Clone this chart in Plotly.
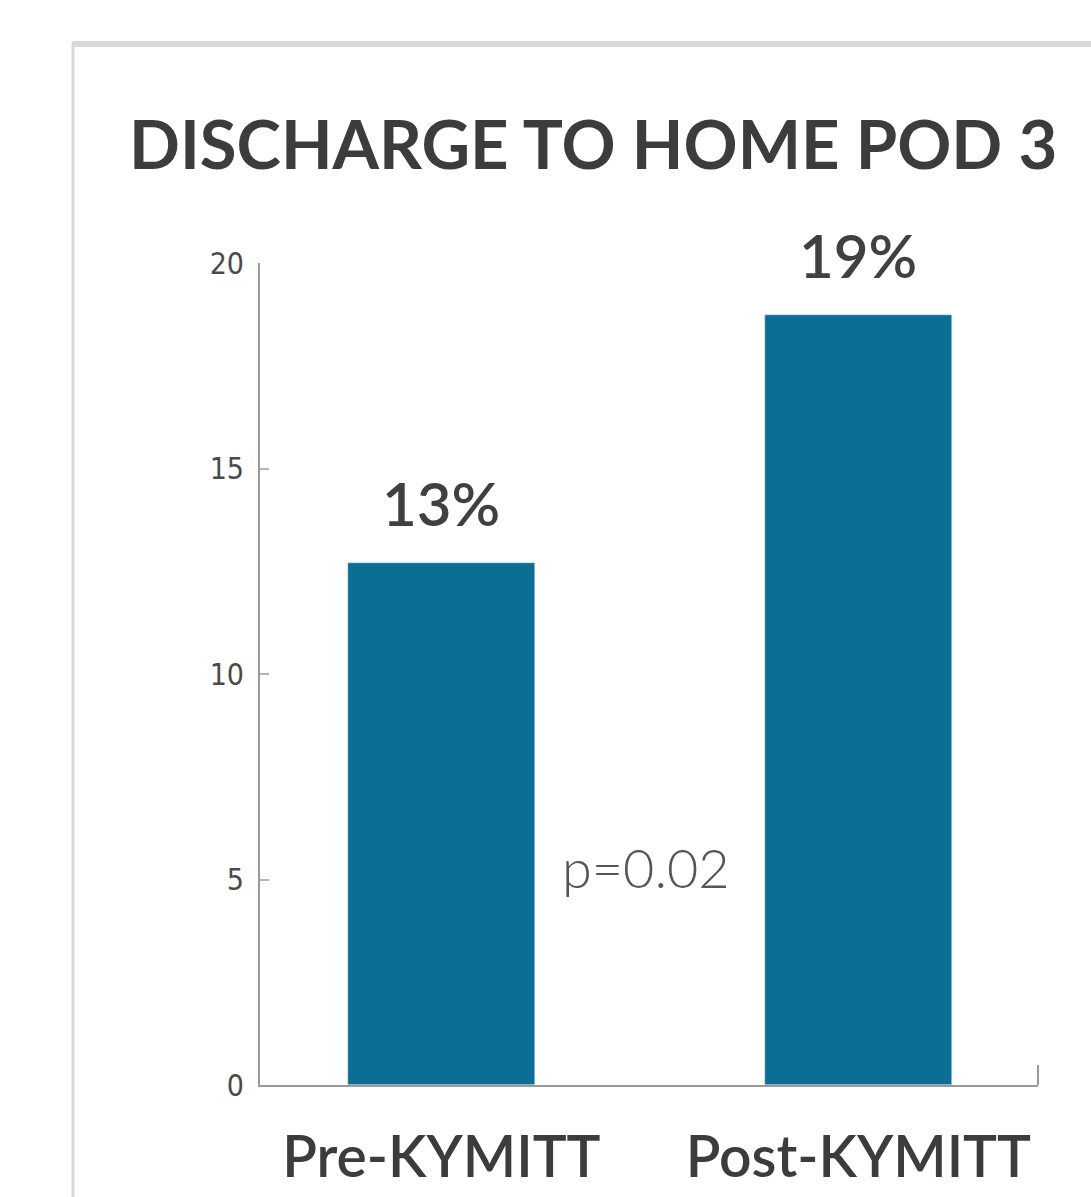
import plotly.graph_objects as go

categories = ["Pre-KYMITT", "Post-KYMITT"]
values = [12.7, 18.73]
value_labels = ["13%", "19%"]
y_ticks = [0, 5, 10, 15, 20]
title_text = "DISCHARGE TO HOME POD 3"
p_text = "p=0.02"

BAR = "#0b6f95"
AX = "#9a9a9a"

fig = go.Figure()
fig.add_trace(go.Bar(
    x=[0, 1], y=values, marker_color=BAR, width=0.449,
    hoverinfo="skip", showlegend=False,
))

W, H = 1091, 1197
L, R, T, B = 260, 53, 263, 112
pw = W - L - R
ph = H - T - B

def px_x(p):
    return (p - L) / pw

def px_y(p):
    return (H - B - p) / ph

annotations = []
for i, (v, lab) in enumerate(zip(values, value_labels)):
    annotations.append(dict(
        x=i, y=v, text=lab, showarrow=False, yshift=22, yanchor="bottom",
        font=dict(family="Lato", size=60, color="#404040", weight=600),
    ))
annotations.append(dict(
    x=0.5, y=5.3, text=p_text, showarrow=False, xshift=-4,
    font=dict(family="Lato", size=54, color="#555555", weight=300),
))
annotations.append(dict(
    xref="paper", yref="paper", x=px_x(127), y=px_y(143), text=title_text,
    showarrow=False, xanchor="left", yanchor="middle",
    font=dict(family="Lato", size=67, color="#3c3c3c", weight=700),
))

shapes = [
    dict(type="line", xref="paper", yref="paper", x0=px_x(72), x1=px_x(1200),
         y0=px_y(44), y1=px_y(44), line=dict(color="#d9d9d9", width=6)),
    dict(type="line", xref="paper", yref="paper", x0=px_x(73), x1=px_x(73),
         y0=px_y(42), y1=px_y(1300), line=dict(color="#d9d9d9", width=3)),
    dict(type="line", xref="paper", yref="paper", x0=1, x1=1,
         y0=0, y1=px_y(1065), line=dict(color=AX, width=2)),
]

fig.update_layout(
    width=W, height=H,
    margin=dict(l=L, r=R, t=T, b=B),
    paper_bgcolor="white", plot_bgcolor="white",
    annotations=annotations, shapes=shapes,
    xaxis=dict(
        range=[-0.435, 1.431], tickvals=[0, 1], ticktext=categories,
        showline=True, linecolor=AX, linewidth=2, ticks="",
        showgrid=False, zeroline=False, ticklabelstandoff=22, automargin=False,
        tickfont=dict(family="Lato", size=57, color="#3c3c3c", weight=600),
    ),
    yaxis=dict(
        range=[0, 20], tickvals=y_ticks, ticktext=[str(t) for t in y_ticks],
        showline=True, linecolor=AX, linewidth=2, ticks="inside",
        ticklen=9, tickcolor="#b5b5b5", tickwidth=1.5, automargin=False,
        showgrid=False, zeroline=False, ticklabelstandoff=8,
        tickfont=dict(family="DejaVu Sans Condensed, Roboto",
                      size=30, color="#4a4a4a"),
    ),
    bargap=0,
)

fig.write_html("out.html")
